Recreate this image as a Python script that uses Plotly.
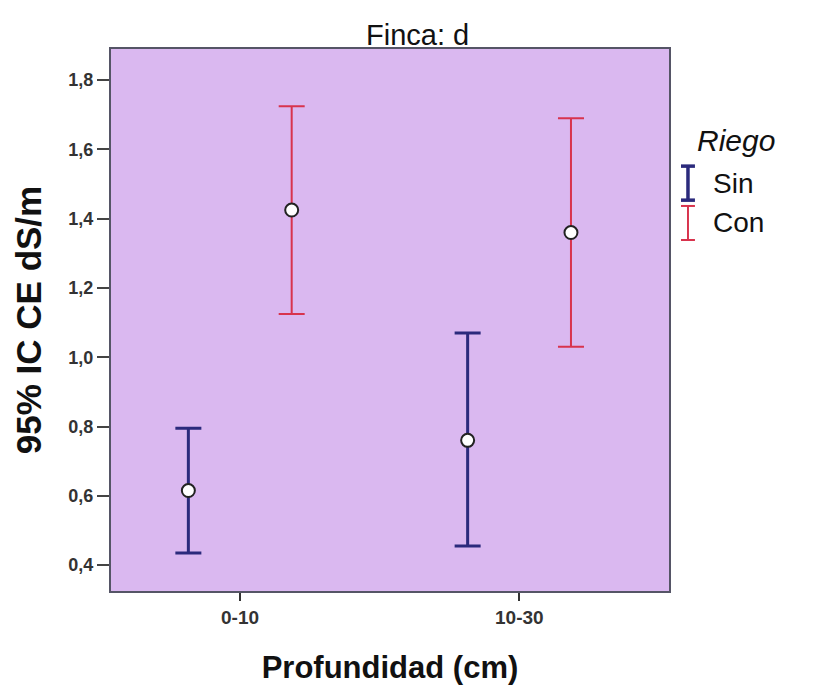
import plotly.graph_objects as go

categories = ["0-10", "10-30"]
series = ["Sin", "Con"]
sin_mean = [0.615, 0.76]
sin_low = [0.435, 0.455]
sin_high = [0.795, 1.07]
con_mean = [1.425, 1.36]
con_low = [1.125, 1.03]
con_high = [1.725, 1.69]
y_ticks = [0.4, 0.6, 0.8, 1.0, 1.2, 1.4, 1.6, 1.8]
y_ticktext = ["0,4", "0,6", "0,8", "1,0", "1,2", "1,4", "1,6", "1,8"]

colors = {"Sin": "#2b2a7c", "Con": "#d8334d"}
offset = 0.185
bg = "#dab8f0"

fig = go.Figure()
data = {"Sin": (sin_mean, sin_low, sin_high, -offset, 3),
        "Con": (con_mean, con_low, con_high, offset, 2)}
for name in series:
    m, lo, hi, off, lw = data[name]
    xs = [i + off for i in range(len(categories))]
    fig.add_trace(go.Scatter(
        x=xs, y=m, mode="markers", name=name, showlegend=False,
        marker=dict(color="white", size=13, line=dict(color="#222222", width=2)),
        error_y=dict(type="data", symmetric=False,
                     array=[h - v for h, v in zip(hi, m)],
                     arrayminus=[v - l for v, l in zip(m, lo)],
                     color=colors[name], thickness=lw, width=13),
    ))

# legend drawn manually
lx = 1.034
fig.add_annotation(xref="paper", yref="paper", x=1.047, y=0.832, text="<i>Riego</i>",
                   showarrow=False, xanchor="left", yanchor="middle",
                   font=dict(size=30, color="#111111"))
for k, name in enumerate(series):
    yc = [0.7525, 0.679][k]
    h = 0.0314
    c = colors[name]
    w = 3.5 if name == "Sin" else 2
    fig.add_shape(type="line", xref="paper", yref="paper", x0=lx, x1=lx, y0=yc - h, y1=yc + h,
                  line=dict(color=c, width=w))
    fig.add_shape(type="line", xref="paper", yref="paper", x0=lx - 0.0125, x1=lx + 0.0125,
                  y0=yc + h, y1=yc + h, line=dict(color=c, width=w))
    fig.add_shape(type="line", xref="paper", yref="paper", x0=lx - 0.0125, x1=lx + 0.0125,
                  y0=yc - h, y1=yc - h, line=dict(color=c, width=w))
    fig.add_annotation(xref="paper", yref="paper", x=1.0744, y=yc, text=name,
                       showarrow=False, xanchor="left", yanchor="middle",
                       font=dict(size=28, color="#111111"))

fig.add_annotation(xref="paper", yref="paper", x=0.550, y=0.992, text="Finca: d",
                   showarrow=False, xanchor="center", yanchor="bottom",
                   font=dict(size=29, color="#111111"))

fig.update_layout(
    width=815, height=691,
    margin=dict(l=103, r=154, t=41, b=108),
    paper_bgcolor="white", plot_bgcolor=bg,
    font=dict(family="Liberation Sans, Arial, sans-serif", color="#222222"),
    xaxis=dict(range=[-0.462, 1.536], tickmode="array", tickvals=[0, 1],
               ticktext=["<b>" + c + "</b>" for c in categories],
               ticks="outside", ticklen=8, tickwidth=2, tickcolor="#333333",
               showgrid=False, zeroline=False, showline=True, linecolor="#555566", linewidth=2,
               mirror=True, tickfont=dict(size=19, color="#333333"),
               title=dict(text="<b>Profundidad (cm)</b>", font=dict(size=31, color="#111111"), standoff=30)),
    yaxis=dict(range=[0.325, 1.89], tickmode="array", tickvals=y_ticks,
               ticktext=["<b>" + t + "</b>" for t in y_ticktext],
               ticks="outside", ticklen=12, tickwidth=1.5, tickcolor="#444444",
               showgrid=False, zeroline=False, showline=True, linecolor="#555566", linewidth=2,
               mirror=True, tickfont=dict(size=18, color="#333333"),
               title=dict(text="<b>95% IC CE dS/m</b>", font=dict(size=35, color="#111111"), standoff=16)),
)

fig.write_html("out.html")
